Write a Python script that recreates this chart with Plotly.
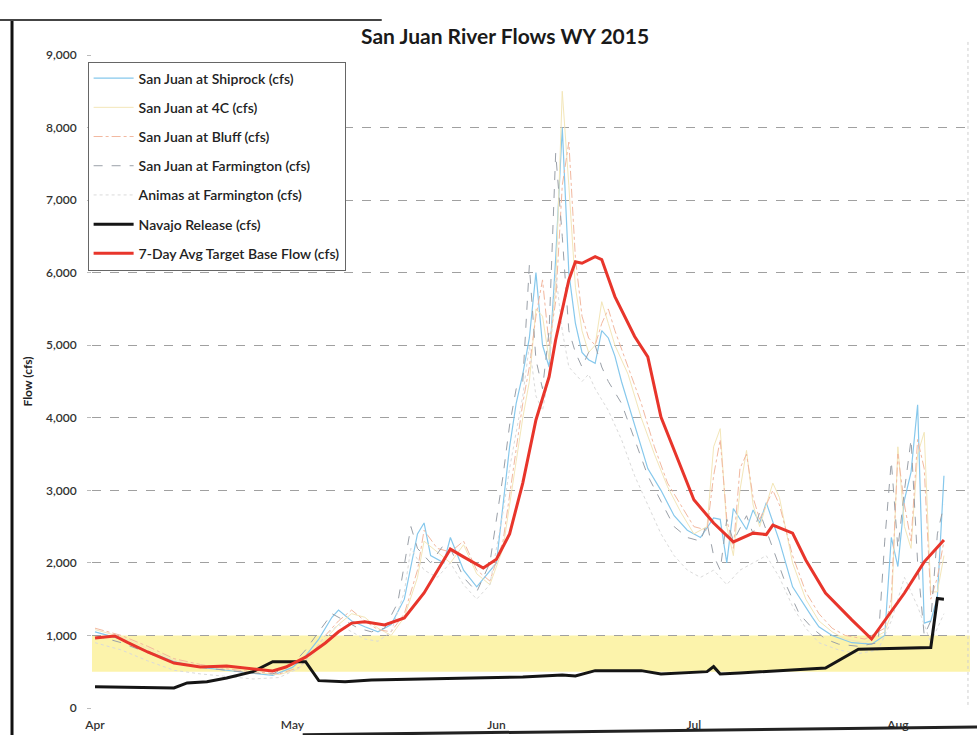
import plotly.graph_objects as go

YEAR = "2015-"

# ---- Data ----
shiprock_dates = ["04-01","04-05","04-09","04-13","04-17","04-21","04-25","04-28","05-01","05-03","05-05","05-07","05-08","05-10","05-12","05-14","05-16","05-18","05-20","05-21","05-22","05-24","05-25","05-27","05-29","06-01","06-02","06-03","06-04","06-05","06-06","06-07","06-08","06-09","06-10","06-11","06-12","06-13","06-14","06-15","06-16","06-17","06-18","06-19","06-20","06-21","06-22","06-24","06-26","06-28","06-30","07-02","07-04","07-05","07-06","07-07","07-09","07-10","07-11","07-12","07-14","07-16","07-19","07-20","07-22","07-25","07-28","07-30","07-31","08-01","08-02","08-03","08-04","08-05","08-06","08-07","08-08"]
shiprock_flow = [1050,950,780,640,560,520,470,450,560,720,950,1250,1350,1200,1120,1050,1150,1500,2400,2550,2100,2000,2350,1900,1670,2000,2800,3600,4200,4600,5100,6000,5000,4700,6200,8000,6000,5300,4900,4800,4750,5200,5100,4850,4500,4200,3900,3300,3000,2650,2450,2350,2620,2600,2000,2750,2460,2730,2550,2830,2300,1670,1250,1120,1000,900,880,1000,2350,1950,2870,3250,4180,1170,1200,1530,3200]

fourc_dates = ["04-01","04-05","04-09","04-13","04-17","04-21","04-25","04-29","05-02","05-04","05-06","05-08","05-10","05-12","05-14","05-16","05-18","05-20","05-21","05-23","05-25","05-27","05-29","05-31","06-02","06-04","06-05","06-06","06-07","06-08","06-09","06-10","06-11","06-12","06-13","06-14","06-15","06-16","06-17","06-18","06-19","06-21","06-23","06-25","06-27","06-29","07-01","07-03","07-04","07-05","07-06","07-07","07-08","07-09","07-10","07-11","07-13","07-14","07-16","07-18","07-20","07-22","07-24","07-27","07-30","07-31","08-01","08-02","08-03","08-04","08-05","08-06","08-07","08-08"]
fourc_flow = [1080,980,820,660,580,530,490,460,540,720,950,1150,1300,1250,1100,1000,1250,1800,2300,2150,2000,2250,1850,1700,2200,3400,4000,4500,5500,5400,4800,5800,8500,7200,5800,5200,4900,5000,5600,5300,5000,4600,4000,3500,3050,2700,2400,2500,3600,3850,2500,2100,3000,3550,2800,2500,3100,2900,2000,1500,1200,1050,950,900,1050,1300,3600,2500,2200,3500,3800,1600,1600,2100]

bluff_dates = ["04-01","04-05","04-09","04-13","04-17","04-21","04-25","04-29","05-02","05-04","05-06","05-08","05-10","05-12","05-14","05-16","05-18","05-20","05-21","05-23","05-25","05-27","05-29","05-31","06-02","06-04","06-05","06-06","06-07","06-08","06-09","06-10","06-11","06-12","06-13","06-14","06-15","06-16","06-17","06-18","06-19","06-21","06-23","06-25","06-27","06-29","07-01","07-03","07-04","07-05","07-06","07-07","07-08","07-09","07-10","07-11","07-13","07-14","07-16","07-18","07-20","07-22","07-24","07-27","07-30","07-31","08-01","08-02","08-03","08-04","08-05","08-06","08-07","08-08"]
bluff_flow = [1100,1000,850,680,600,540,500,470,560,750,1000,1200,1350,1200,1080,1050,1300,1900,2450,2200,2150,2300,1900,1750,2300,3600,4200,4700,5400,5900,5000,5600,7200,7800,6200,5400,5100,5000,5300,5500,5200,4700,4200,3600,3100,2800,2500,2450,3200,3700,2600,2200,3300,3500,2900,2600,3000,2800,2100,1600,1300,1100,1000,950,1100,1500,3500,2800,2300,3700,3300,1500,1800,2300]

farm_dates = ["04-01","04-05","04-09","04-13","04-17","04-21","04-25","04-28","05-01","05-03","05-05","05-07","05-09","05-11","05-13","05-15","05-17","05-19","05-20","05-22","05-24","05-25","05-27","05-29","05-31","06-02","06-03","06-04","06-05","06-06","06-07","06-08","06-09","06-10","06-11","06-12","06-13","06-14","06-15","06-16","06-17","06-18","06-20","06-22","06-24","06-26","06-28","06-30","07-02","07-03","07-04","07-05","07-06","07-07","07-09","07-10","07-11","07-13","07-15","07-17","07-19","07-21","07-23","07-26","07-29","07-30","07-31","08-01","08-02","08-03","08-04","08-05","08-06","08-07","08-08"]
farm_flow = [1000,900,760,620,560,520,480,470,600,800,1050,1300,1200,1100,1050,1100,1450,2500,2200,2000,2250,2200,1800,1600,2000,3200,3900,4400,4500,6100,4800,4400,5200,7650,6500,5200,4900,4700,4900,5000,4700,4500,4200,3700,3200,2850,2500,2350,2300,2550,2100,1900,2600,2300,2650,2400,2700,2200,1700,1300,1100,950,880,850,900,2300,3400,2200,3000,3700,2000,1000,1200,2400,2800]

animas_dates = ["04-01","04-05","04-09","04-13","04-17","04-21","04-25","04-29","05-02","05-04","05-06","05-08","05-10","05-12","05-14","05-16","05-18","05-19","05-21","05-23","05-25","05-27","05-29","05-31","06-02","06-03","06-04","06-05","06-06","06-07","06-08","06-09","06-10","06-11","06-12","06-13","06-14","06-15","06-16","06-18","06-20","06-22","06-24","06-26","06-28","06-30","07-02","07-04","07-06","07-08","07-10","07-12","07-14","07-16","07-18","07-20","07-23","07-26","07-29","07-31","08-02","08-04","08-06","08-08"]
animas_flow = [900,800,650,520,470,430,400,420,550,750,1000,1150,1050,950,920,1050,1600,2200,1900,1800,2000,1700,1500,1700,2700,3300,3800,4300,5000,4300,4100,4600,6000,5200,4700,4600,4500,4600,4400,4100,3700,3200,2800,2400,2100,1900,1800,1900,1700,1900,2000,2100,1800,1400,1100,900,800,750,800,1200,1800,1400,900,1300]

navajo_dates = ["04-01","04-10","04-13","04-15","04-18","04-21","04-25","04-28","05-03","05-05","05-09","05-13","06-01","06-05","06-11","06-13","06-16","06-23","06-26","06-30","07-03","07-04","07-05","07-08","07-21","07-26","08-05","08-06","08-07","08-08"]
navajo_flow = [294,280,276,345,363,414,501,639,639,377,363,386,414,428,455,441,515,515,469,483,501,570,469,483,552,810,835,835,1510,1500]

target_dates = ["04-01","04-04","04-06","04-09","04-13","04-17","04-21","04-25","04-28","04-30","05-03","05-06","05-08","05-10","05-12","05-15","05-18","05-21","05-25","05-27","05-30","06-01","06-03","06-05","06-07","06-09","06-10","06-12","06-13","06-14","06-16","06-17","06-19","06-22","06-24","06-26","06-29","07-01","07-04","07-07","07-10","07-12","07-13","07-16","07-18","07-21","07-25","07-28","08-02","08-05","08-08"]
target_flow = [965,993,900,772,620,565,580,538,510,565,700,896,1050,1170,1190,1145,1240,1585,2190,2083,1930,2050,2400,3100,3970,4565,5075,5900,6150,6130,6220,6180,5670,5120,4840,4010,3320,2870,2550,2290,2410,2390,2520,2410,2040,1585,1214,950,1585,2014,2317]

band_low, band_high = 500, 1000
month_ticks = ["04-01", "05-01", "06-01", "07-01", "08-01"]
month_labels = ["Apr", "May", "Jun", "Jul", "Aug"]
y_ticks = list(range(0, 9001, 1000))

def d(lst):
    return [YEAR + s for s in lst]

FONT = "Lato, 'Open Sans', sans-serif"

series = [
    ("San Juan at Shiprock (cfs)", shiprock_dates, shiprock_flow, dict(color="#86c8ec", width=1.2)),
    ("San Juan at 4C (cfs)", fourc_dates, fourc_flow, dict(color="#f3e6b8", width=1)),
    ("San Juan at Bluff (cfs)", bluff_dates, bluff_flow, dict(color="#f2b8a0", width=1, dash="dashdot")),
    ("San Juan at Farmington (cfs)", farm_dates, farm_flow, dict(color="#9aa0a8", width=1, dash="dash")),
    ("Animas at Farmington (cfs)", animas_dates, animas_flow, dict(color="#dadada", width=1, dash="dot")),
    ("Navajo Release (cfs)", navajo_dates, navajo_flow, dict(color="#151515", width=3)),
    ("7-Day Avg Target Base Flow (cfs)", target_dates, target_flow, dict(color="#e8352b", width=3)),
]

fig = go.Figure()
for i, (name, dts, vals, line) in enumerate(series):
    fig.add_trace(go.Scatter(x=d(dts), y=vals, mode="lines", name=name, line=line,
                             legendgroup=f"g{i}", hoverinfo="skip"))

# target band
fig.add_shape(type="rect", xref="x domain", yref="y", x0=0, x1=1, y0=band_low, y1=band_high,
              fillcolor="#fcf3ab", line=dict(width=0), layer="below")

# scanned chart frame edges
fig.add_shape(type="line", xref="paper", yref="paper", x0=-0.0911, x1=-0.0911, y0=1.0536, y1=-0.05,
              line=dict(color="#111", width=3))
fig.add_shape(type="line", xref="paper", yref="paper", x0=-0.11, x1=0.33, y0=1.0536, y1=1.0536,
              line=dict(color="#444", width=2))
fig.add_shape(type="line", xref="paper", yref="paper", x0=0.24, x1=1.01, y0=-0.041, y1=-0.029,
              line=dict(color="#222", width=3))
fig.add_shape(type="line", xref="paper", yref="paper", x0=0.9977, x1=0.9977, y0=1.02, y1=0.0,
              line=dict(color="#cfcfcf", width=1, dash="dot"))

fig.update_layout(
    width=977, height=735,
    margin=dict(l=92, r=7, t=55, b=27, autoexpand=False),
    paper_bgcolor="white", plot_bgcolor="white",
    font=dict(family=FONT, size=12, color="#333"),
    title=dict(text="<b>San Juan River Flows WY 2015</b>", x=0.517, xanchor="center",
               y=1 - 37 / 735, yanchor="middle", yref="container",
               font=dict(family=FONT, size=21, color="#1a1a1a")),
    showlegend=True,
    legend=dict(x=-0.005, y=0.99, xanchor="left", yanchor="top",
                bgcolor="white", bordercolor="#666", borderwidth=1,
                font=dict(family=FONT, size=14, color="#222", weight=600),
                tracegroupgap=8, itemwidth=40, traceorder="grouped"),
)

fig.update_xaxes(
    type="date", automargin=False,
    range=["2015-03-31 13:00", "2015-08-11 23:00"],
    tickvals=d(month_ticks), ticktext=month_labels,
    showgrid=False, zeroline=False, showline=False,
    ticks="outside", ticklen=6, tickcolor="white",
    tickfont=dict(family=FONT, size=12, color="#333", weight=600),
)
fig.update_yaxes(
    automargin=False,
    range=[0, 9000], tickvals=y_ticks, tickformat=",",
    showgrid=True, gridcolor="#a0a0a0", gridwidth=1, griddash="dash",
    zeroline=False, showline=False,
    ticks="outside", ticklen=4, tickcolor="#bbb", ticklabelstandoff=8,
    tickfont=dict(family=FONT, size=12, color="#333", weight=600),
    title=dict(text="<b>Flow (cfs)</b>", standoff=10, font=dict(family=FONT, size=12, color="#222")),
)

fig.write_html("out.html", config={"displayModeBar": False},
               post_script="document.body.style.margin='0';document.body.style.overflow='hidden';")
